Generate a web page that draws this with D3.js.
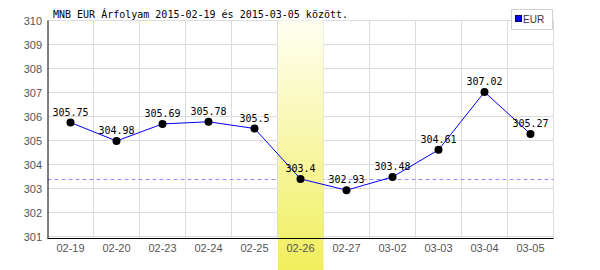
<html>
 <head>
  <meta charset="utf-8">
  <script src="https://d3js.org/d3.v7.min.js"></script>
  <style>
   body{margin:0;background:#fff}
   .mono{font-family:"DejaVu Sans Mono",monospace;font-size:10px;fill:#000}
   .tick{font-family:"Liberation Sans",Arial,sans-serif;font-size:11px;fill:#555}
  </style>
 </head>
 <body>
  <svg></svg>
  <script>
   var svgWidth=600,svgHeight=270;
   var titleText="MNB EUR Árfolyam 2015-02-19 és 2015-03-05 között.";
   var dates=["02-19","02-20","02-23","02-24","02-25","02-26","02-27","03-02","03-03","03-04","03-05"];
   var rates=[305.75,304.98,305.69,305.78,305.5,303.4,302.93,303.48,304.61,307.02,305.27];
   var yTicks=[301,302,303,304,305,306,307,308,309,310];
   var highlight="02-26";
   var seriesName="EUR";

   var left=47.5,right=553.5,top=21,bottom=237;

   var svg=d3.select("svg").attr("width",svgWidth).attr("height",svgHeight);

   var x=d3.scaleBand().domain(dates).range([left,right]);
   var y=d3.scaleLinear().domain([301,310]).range([236.5,20.5]);

   var defs=svg.append("defs");
   var grad=defs.append("linearGradient").attr("id","hl").attr("x1",0).attr("y1",0).attr("x2",0).attr("y2",1);
   grad.append("stop").attr("offset","0%").attr("stop-color","#fffff2");
   grad.append("stop").attr("offset","100%").attr("stop-color","#f0ee5c");

   // grid
   var grid=svg.append("g").attr("stroke","#dcdcdc").attr("stroke-width",1);
   grid.selectAll(".h").data(yTicks).enter().append("line")
     .attr("x1",left).attr("x2",right).attr("y1",function(d){return y(d);}).attr("y2",function(d){return y(d);});
   grid.selectAll(".v").data(dates.slice(1).concat(["end"])).enter().append("line")
     .attr("x1",function(d,i){return left+(i+1)*x.bandwidth();})
     .attr("x2",function(d,i){return left+(i+1)*x.bandwidth();})
     .attr("y1",y(310)).attr("y2",238);

   // reference dashed line at highlighted value
   var hv=rates[dates.indexOf(highlight)];
   svg.append("line").attr("x1",left).attr("x2",right).attr("y1",Math.round(y(hv))+0.5).attr("y2",Math.round(y(hv))+0.5)
     .attr("stroke","#8f8fff").attr("stroke-dasharray","4,3");

   // highlight band
   svg.append("rect").attr("x",x(highlight)+0.5).attr("y",y(310)).attr("width",x.bandwidth()-0.5)
     .attr("height",svgHeight-y(310)).attr("fill","url(#hl)");

   // axes lines
   svg.append("line").attr("x1",left+0.5).attr("x2",left+0.5).attr("y1",y(310)).attr("y2",238.5).attr("stroke","#000");
   svg.append("line").attr("x1",left).attr("x2",right).attr("y1",238.5).attr("y2",238.5).attr("stroke","#000");

   // tick labels
   svg.selectAll(".yl").data(yTicks).enter().append("text").attr("class","tick")
     .attr("x",42).attr("y",function(d){return y(d)+4;}).attr("text-anchor","end").text(function(d){return d;});
   svg.selectAll(".xl").data(dates).enter().append("text").attr("class","tick")
     .attr("x",function(d){return x(d)+x.bandwidth()/2;}).attr("y",252).attr("text-anchor","middle").text(function(d){return d;});

   // series
   var line=d3.line().x(function(d,i){return x(dates[i])+x.bandwidth()/2;}).y(function(d){return y(d);});
   svg.append("path").attr("d",line(rates)).attr("fill","none").attr("stroke","#0000ff").attr("stroke-width",1);
   svg.selectAll(".pt").data(rates).enter().append("circle")
     .attr("cx",function(d,i){return x(dates[i])+x.bandwidth()/2;}).attr("cy",function(d){return y(d);})
     .attr("r",4).attr("fill","#000");
   svg.selectAll(".vl").data(rates).enter().append("text").attr("class","mono")
     .attr("x",function(d,i){return x(dates[i])+x.bandwidth()/2;}).attr("y",function(d){return y(d)-7;})
     .attr("text-anchor","middle").text(function(d){return d;});

   // title
   svg.append("text").attr("class","mono").attr("x",53).attr("y",18).text(titleText);

   // legend
   var lg=svg.append("g");
   lg.append("rect").attr("x",511.5).attr("y",9.5).attr("width",41).attr("height",20).attr("fill","#fff").attr("stroke","#d0d0d0");
   lg.append("rect").attr("x",515.5).attr("y",15.5).attr("width",6).attr("height",6).attr("fill","#0000ff").attr("stroke","#000066");
   lg.append("text").attr("x",523).attr("y",23).style("font-family","Liberation Sans,Arial,sans-serif").style("font-size","10px").attr("fill","#333").text(seriesName);
  </script>
 </body>
</html>
